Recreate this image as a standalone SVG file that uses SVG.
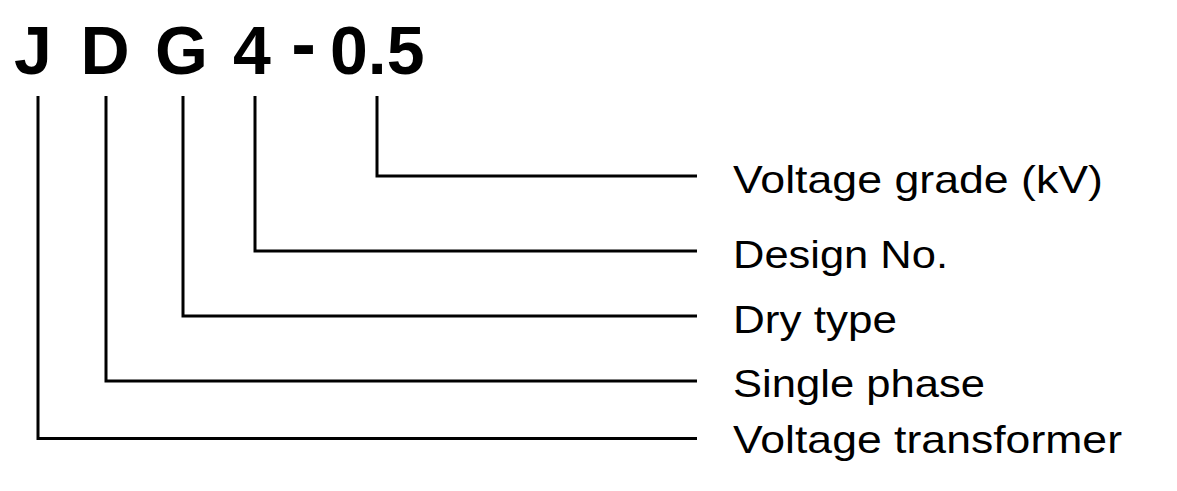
<svg xmlns="http://www.w3.org/2000/svg" width="1177" height="491" viewBox="0 0 1177 491">
<style>
.code{font-family:"Liberation Sans",Arial,sans-serif;font-weight:bold;font-size:68px;fill:#000}
.dash{font-family:"Liberation Sans",Arial,sans-serif;font-weight:bold;font-size:74px;fill:#000}
.lbl{font-family:"Liberation Sans",Arial,sans-serif;font-size:39px;fill:#000}
.ln{fill:none;stroke:#000;stroke-width:3;stroke-linejoin:miter;stroke-linecap:butt}
</style>
<rect width="1177" height="491" fill="#fff"/>
<g id="code">
<text class="code" x="33" y="74" text-anchor="middle">J</text>
<text class="code" x="105" y="74" text-anchor="middle">D</text>
<text class="code" x="181.5" y="74" text-anchor="middle">G</text>
<text class="code" x="252" y="74" text-anchor="middle">4</text>
<text class="dash" x="303.5" y="69" text-anchor="middle">-</text>
<text class="code" x="330" y="74">0.5</text>
</g>
<g id="connectors">
<polyline class="ln" points="377,96 377,176 697,176"/>
<polyline class="ln" points="255,96 255,251 697,251"/>
<polyline class="ln" points="183,96 183,316 697,316"/>
<polyline class="ln" points="106,96 106,381 697,381"/>
<polyline class="ln" points="38,96 38,438.5 697,438.5"/>
</g>
<g id="node-voltage-grade"><text class="lbl" x="733" y="193" textLength="370" lengthAdjust="spacingAndGlyphs">Voltage grade (kV)</text></g>
<g id="node-design-no"><text class="lbl" x="733" y="268" textLength="215" lengthAdjust="spacingAndGlyphs">Design No.</text></g>
<g id="node-dry-type"><text class="lbl" x="733" y="333" textLength="164" lengthAdjust="spacingAndGlyphs">Dry type</text></g>
<g id="node-single-phase"><text class="lbl" x="733" y="397" textLength="252" lengthAdjust="spacingAndGlyphs">Single phase</text></g>
<g id="node-voltage-transformer"><text class="lbl" x="733" y="453" textLength="389" lengthAdjust="spacingAndGlyphs">Voltage transformer</text></g>
</svg>
